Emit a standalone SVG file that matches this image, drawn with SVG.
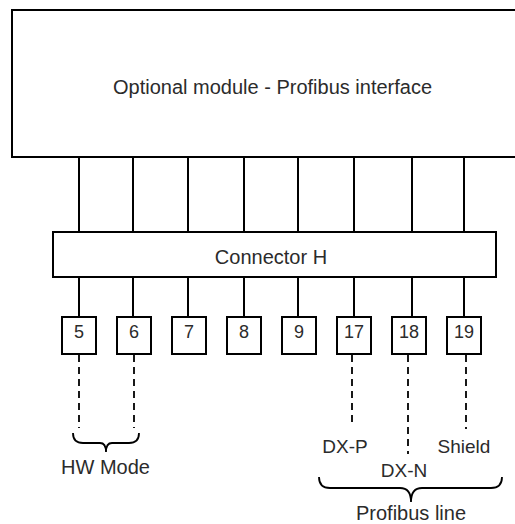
<svg xmlns="http://www.w3.org/2000/svg" width="515" height="524" viewBox="0 0 515 524">
<style>
.box{fill:#fff;stroke:#000;stroke-width:2}
.ln{stroke:#000;stroke-width:2;fill:none}
.dash{stroke:#000;stroke-width:1.8;stroke-dasharray:7 5;fill:none}
.br{stroke:#000;stroke-width:1.8;fill:none}
text{font-family:"Liberation Sans",Arial,sans-serif;fill:#2b2b2b}
.lbl{font-size:20px}
.sm{font-size:19px}
.pin{font-size:18px;text-anchor:middle}
</style>
<g id="module">
<rect class="box" x="12" y="10" width="510" height="147"/>
<text class="lbl" x="272.5" y="94" text-anchor="middle">Optional module - Profibus interface</text>
</g>
<g id="connectors">
<path class="ln" d="M79,157V232M133,157V232M188,157V232M244,157V232M298,157V232M354,157V232M412,157V232M464,157V232"/>
<path class="ln" d="M79,277V317M133,277V317M188,277V317M244,277V317M298,277V317M354,277V317M412,277V317M464,277V317"/>
<path class="dash" d="M79,355V428M134,355V428M352,355V427M408,355V454M466,355V429"/>
</g>
<g id="connectorH">
<rect class="box" x="53" y="232" width="443" height="45"/>
<text class="lbl" x="271" y="264" text-anchor="middle">Connector H</text>
</g>
<g id="pin5"><rect class="box" x="62" y="317" width="34" height="37"/><text class="pin" x="79" y="338">5</text></g>
<g id="pin6"><rect class="box" x="117" y="317" width="34" height="37"/><text class="pin" x="134" y="338">6</text></g>
<g id="pin7"><rect class="box" x="172" y="317" width="34" height="37"/><text class="pin" x="189" y="338">7</text></g>
<g id="pin8"><rect class="box" x="227" y="317" width="34" height="37"/><text class="pin" x="244" y="338">8</text></g>
<g id="pin9"><rect class="box" x="282" y="317" width="34" height="37"/><text class="pin" x="299" y="338">9</text></g>
<g id="pin17"><rect class="box" x="337" y="317" width="34" height="37"/><text class="pin" x="354" y="338">17</text></g>
<g id="pin18"><rect class="box" x="392" y="317" width="34" height="37"/><text class="pin" x="409" y="338">18</text></g>
<g id="pin19"><rect class="box" x="447" y="317" width="34" height="37"/><text class="pin" x="464" y="338">19</text></g>
<g id="hwmode">
<path class="br" d="M73,433Q73,443 83,443L100,443Q106,443 106,452Q106,443 112,443L129,443Q139,443 139,433"/>
<text class="lbl" x="105.5" y="474" text-anchor="middle">HW Mode</text>
</g>
<g id="labels">
<text class="sm" x="345" y="453" text-anchor="middle">DX-P</text>
<text class="sm" x="404" y="477" text-anchor="middle">DX-N</text>
<text class="sm" x="464" y="453" text-anchor="middle">Shield</text>
</g>
<g id="profibus">
<path class="br" d="M319,477Q319,488 330,488L400,488Q411,488 411,502Q411,488 422,488L491,488Q502,488 502,477"/>
<text class="lbl" x="411" y="520" text-anchor="middle">Profibus line</text>
</g>
</svg>
